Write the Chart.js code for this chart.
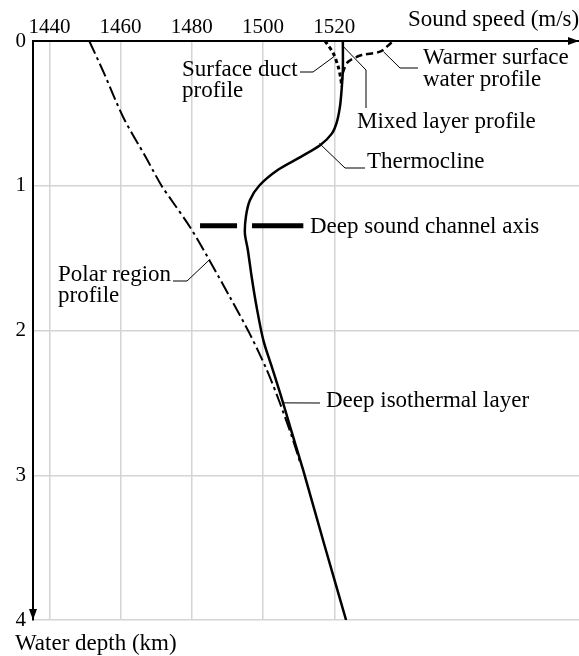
<!DOCTYPE html>
<html>
<head>
<meta charset="utf-8">
<title>Sound speed profiles</title>
<script src="https://cdn.jsdelivr.net/npm/chart.js@4.4.1/dist/chart.umd.min.js"></script>
<style>
  html, body { margin: 0; padding: 0; background: #fff; }
  #wrap { width: 579px; height: 656px; position: relative; }
</style>
</head>
<body>
<div id="wrap"><canvas id="chart"></canvas></div>
<script>
// ---- data (sound speed in m/s, depth in km) ----
const speedTicks = [1440, 1460, 1480, 1500, 1520];
const depthTicks = [0, 1, 2, 3, 4];

// main profile: mixed layer -> thermocline -> deep isothermal layer
const mainSpeed = [1522.4, 1522.4, 1522.1, 1521.6, 1520.7, 1519.3, 1516.0, 1510.6, 1504.2, 1498.9, 1496.3, 1495.2, 1494.9, 1495.7, 1496.8, 1498.2, 1500.1, 1502.3, 1505.0, 1507.9, 1511.2, 1517.2, 1523.3];
const mainDepth = [0, 0.2, 0.32, 0.45, 0.56, 0.64, 0.72, 0.8, 0.89, 1.0, 1.1, 1.21, 1.33, 1.44, 1.63, 1.84, 2.07, 2.24, 2.45, 2.69, 2.96, 3.48, 4.0];

// polar region profile
const polarSpeed = [1451.2, 1455.3, 1460.8, 1467.0, 1471.5, 1474.3, 1479.6, 1484.6, 1490.7, 1496.2, 1501.0, 1504.4, 1507.9, 1510.5];
const polarDepth = [0, 0.22, 0.53, 0.8, 1.0, 1.1, 1.29, 1.5, 1.77, 2.02, 2.27, 2.48, 2.72, 2.92];

// surface duct profile
const ductSpeed = [1517.4, 1519.7, 1521.1, 1521.8, 1522.1];
const ductDepth = [0, 0.085, 0.178, 0.258, 0.316];

// warmer surface water profile
const warmSpeed = [1536.1, 1532.8, 1527.7, 1523.9, 1522.5, 1522.1];
const warmDepth = [0.01, 0.074, 0.097, 0.143, 0.212, 0.27];

// deep sound channel axis
const axisSpeed = [1482.3, 1511.3];
const axisDepth = [1.276, 1.276];

const pts = (xs, ys) => xs.map((v, i) => ({ x: v, y: ys[i] }));
const FONT = '"Liberation Serif", "Times New Roman", serif';

// arrows, leader lines and text labels
const annotate = {
  id: 'annotate',
  afterDraw(chart) {
    const { ctx, chartArea: a, scales: { x, y } } = chart;
    const X = v => x.getPixelForValue(v);
    const Y = d => y.getPixelForValue(d);
    ctx.save();
    ctx.fillStyle = '#000';
    ctx.strokeStyle = '#000';

    // arrowheads
    ctx.beginPath();
    ctx.moveTo(a.right, a.top);
    ctx.lineTo(a.right - 11, a.top - 4);
    ctx.lineTo(a.right - 11, a.top + 4);
    ctx.closePath();
    ctx.fill();
    ctx.beginPath();
    ctx.moveTo(a.left, a.bottom);
    ctx.lineTo(a.left - 4, a.bottom - 11);
    ctx.lineTo(a.left + 4, a.bottom - 11);
    ctx.closePath();
    ctx.fill();

    // leader lines
    ctx.lineWidth = 1;
    const leader = (p) => {
      ctx.beginPath();
      ctx.moveTo(p[0][0], p[0][1]);
      p.slice(1).forEach(q => ctx.lineTo(q[0], q[1]));
      ctx.stroke();
    };
    leader([[X(1519.9), Y(0.108)], [313, 72], [300, 72]]);
    leader([[X(1533.8), Y(0.074)], [400, 68], [418, 68]]);
    leader([[X(1522.6), Y(0.04)], [366, 70], [366, 108]]);
    leader([[X(1515.8), Y(0.707)], [345, 168], [365, 168]]);
    leader([[X(1485.1), Y(1.508)], [187, 281], [173, 281]]);
    leader([[X(1505.8), Y(2.5)], [320, 403]]);

    // texts
    ctx.font = '23px ' + FONT;
    ctx.textBaseline = 'alphabetic';
    ctx.textAlign = 'left';
    ctx.fillText('Surface duct', 182, 76);
    ctx.fillText('profile', 182, 97);
    ctx.fillText('Warmer surface', 423, 64);
    ctx.fillText('water profile', 423, 86);
    ctx.fillText('Mixed layer profile', 357, 128);
    ctx.fillText('Thermocline', 367, 168);
    ctx.fillText('Deep sound channel axis', 310, 233);
    ctx.fillText('Polar region', 58, 281);
    ctx.fillText('profile', 58, 302);
    ctx.fillText('Deep isothermal layer', 326, 407);
    ctx.fillText('Sound speed (m/s)', 408, 26);
    ctx.fillText('Water depth (km)', 15, 650);
    ctx.restore();
  }
};

new Chart(document.getElementById('chart'), {
  type: 'scatter',
  data: {
    datasets: [
      { label: 'Surface duct profile', data: pts(ductSpeed, ductDepth), showLine: true,
        borderColor: '#000', borderWidth: 3, borderDash: [4, 3], tension: 0.3 },
      { label: 'Warmer surface water profile', data: pts(warmSpeed, warmDepth), showLine: true,
        borderColor: '#000', borderWidth: 2.5, borderDash: [7, 4], tension: 0.3 },
      { label: 'Main profile', data: pts(mainSpeed, mainDepth), showLine: true,
        borderColor: '#000', borderWidth: 2.5, tension: 0.3 },
      { label: 'Polar region profile', data: pts(polarSpeed, polarDepth), showLine: true,
        borderColor: '#000', borderWidth: 2, borderDash: [14, 4, 3, 4], tension: 0.3 },
      { label: 'Deep sound channel axis', data: pts(axisSpeed, axisDepth), showLine: true,
        borderColor: '#000', borderWidth: 5, borderDash: [37, 15, 60, 15], tension: 0 }
    ]
  },
  options: {
    responsive: true,
    maintainAspectRatio: false,
    animation: false,
    devicePixelRatio: 1,
    layout: { padding: { left: 0, top: 0, right: 0, bottom: 36 } },
    elements: { point: { radius: 0, hoverRadius: 0 } },
    plugins: { legend: { display: false }, tooltip: { enabled: false } },
    scales: {
      x: {
        type: 'linear',
        position: 'top',
        min: 1435.4,
        max: 1588.7,
        afterBuildTicks: s => { s.ticks = speedTicks.map(v => ({ value: v })); },
        afterFit: s => { s.height = 41; },
        grid: { color: '#d4d4d4', lineWidth: 1.5, drawTicks: false },
        border: { color: '#000', width: 2 },
        ticks: { color: '#000', padding: 1, font: { family: FONT, size: 21 }, callback: v => String(v) }
      },
      y: {
        type: 'linear',
        reverse: true,
        min: 0,
        max: 4,
        afterBuildTicks: s => { s.ticks = depthTicks.map(v => ({ value: v })); },
        afterFit: s => { s.width = 33; },
        grid: { color: '#d4d4d4', lineWidth: 1.5, drawTicks: false },
        border: { color: '#000', width: 2 },
        ticks: { color: '#000', padding: 7, font: { family: FONT, size: 21 }, callback: v => String(v) }
      }
    }
  },
  plugins: [annotate]
});
</script>
</body>
</html>
